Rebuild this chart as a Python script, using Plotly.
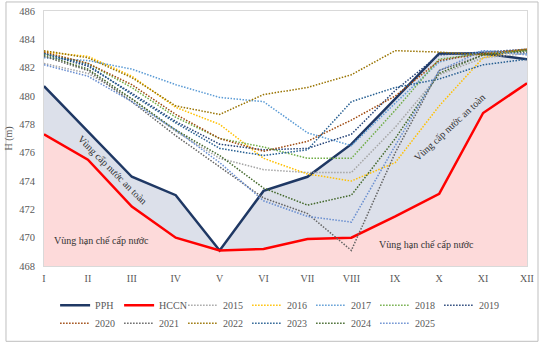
import plotly.graph_objects as go

months = ["I", "II", "III", "IV", "V", "VI", "VII", "VIII", "IX", "X", "XI", "XII"]
PPH = [480.7, 477.5, 474.3, 473.0, 469.1, 473.3, 474.3, 476.6, 479.8, 483.0, 483.0, 482.6]
HCCN = [477.3, 475.5, 472.2, 470.0, 469.1, 469.2, 469.9, 470.0, 471.5, 473.1, 478.8, 480.9]

y2015 = [482.3, 481.6, 479.8, 477.5, 475.6, 474.8, 474.6, 474.6, 477.8, 481.5, 482.7, 483.0]
y2016 = [483.1, 482.8, 481.4, 479.2, 478.0, 475.6, 474.5, 474.0, 475.3, 479.3, 482.7, 483.3]
y2017 = [482.7, 482.5, 481.9, 480.8, 479.9, 479.6, 477.4, 476.5, 479.5, 482.4, 483.2, 483.0]
y2018 = [483.0, 482.3, 480.6, 478.5, 477.0, 476.4, 475.6, 475.6, 479.0, 482.6, 483.0, 483.2]
y2019 = [483.0, 482.1, 480.2, 478.2, 476.6, 476.2, 476.3, 477.3, 480.4, 482.9, 483.1, 483.3]
y2020 = [483.1, 482.3, 480.8, 478.7, 477.0, 476.1, 476.8, 478.3, 480.0, 482.5, 483.0, 483.3]
y2021 = [482.8, 481.8, 479.6, 477.2, 475.0, 472.8, 471.7, 469.1, 476.0, 481.8, 482.9, 483.1]
y2022 = [483.2, 482.7, 481.3, 479.3, 478.7, 480.1, 480.6, 481.5, 483.2, 483.1, 482.9, 483.3]
y2023 = [483.0, 482.2, 480.1, 478.1, 476.3, 475.8, 476.2, 479.6, 480.6, 481.2, 482.2, 482.6]
y2024 = [482.9, 481.9, 479.8, 477.6, 475.8, 473.5, 472.3, 473.0, 477.0, 481.6, 482.9, 483.2]
y2025 = [482.2, 481.4, 479.6, 477.6, 475.3, 472.6, 471.5, 471.1, 476.5, 481.8, 483.2, 482.9]

years = ["2015", "2016", "2017", "2018", "2019", "2020", "2021", "2022", "2023", "2024", "2025"]
year_values = [y2015, y2016, y2017, y2018, y2019, y2020, y2021, y2022, y2023, y2024, y2025]
year_colors = ["#A5A5A5", "#FFC000", "#5B9BD5", "#70AD47", "#264478", "#9E480E",
               "#636363", "#997300", "#255E91", "#43682B", "#698ED0"]

yticks = list(range(468, 487, 2))
x = list(range(len(months)))

FONT = "Liberation Serif"
fig = go.Figure()

# filled zones
fig.add_trace(go.Scatter(x=x, y=HCCN, mode="lines", line=dict(width=0),
                         fill="tozeroy", fillcolor="#FDDADA",
                         showlegend=False, hoverinfo="skip"))
fig.add_trace(go.Scatter(x=x, y=PPH, mode="lines", line=dict(width=0),
                         fill="tonexty", fillcolor="#DCE0EA",
                         showlegend=False, hoverinfo="skip"))

fig.add_trace(go.Scatter(x=x, y=PPH, mode="lines", name="PPH", legend="legend",
                         line=dict(color="#1F3864", width=2.5)))
fig.add_trace(go.Scatter(x=x, y=HCCN, mode="lines", name="HCCN", legend="legend",
                         line=dict(color="#FF0000", width=2.5)))

for i, (name, vals, col) in enumerate(zip(years, year_values, year_colors)):
    fig.add_trace(go.Scatter(x=x, y=vals, mode="lines", name=name,
                             legend="legend" if i < 5 else "legend2",
                             line=dict(color=col, width=1.5, dash="1.5px,1.5px")))

ann_font = dict(family=FONT, size=10, color="#333333")
fig.add_annotation(x=1.55, y=474.8, text="Vùng cấp nước an toàn", textangle=45,
                   showarrow=False, font=ann_font)
fig.add_annotation(x=9.23, y=477.8, text="Vùng cấp nước an toàn", textangle=-43,
                   showarrow=False, font=ann_font)
fig.add_annotation(x=1.32, y=469.8, text="Vùng hạn chế cấp nước",
                   showarrow=False, font=ann_font)
fig.add_annotation(x=8.72, y=469.5, text="Vùng hạn chế cấp nước",
                   showarrow=False, font=ann_font)

# outer chart border
fig.add_shape(type="rect", xref="paper", yref="paper",
              x0=-0.0787, x1=1.0228, y0=-0.2953, y1=1.0354,
              line=dict(color="#BFBFBF", width=1), fillcolor="rgba(0,0,0,0)")

leg_common = dict(orientation="h", xanchor="left", yanchor="middle",
                  traceorder="normal", entrywidth=19, entrywidthmode="pixels",
                  itemwidth=30, font=dict(family=FONT, size=10, color="#595959"),
                  bgcolor="rgba(0,0,0,0)")

fig.update_layout(
    width=541, height=343,
    margin=dict(l=44, r=14, t=11, b=77, autoexpand=False),
    paper_bgcolor="white", plot_bgcolor="white",
    font=dict(family=FONT, size=10, color="#595959"),
    legend=dict(x=0.023, y=-0.1535, **leg_common),
    legend2=dict(x=0.023, y=-0.2244, **leg_common),
    xaxis=dict(range=[0, 11], tickmode="array", tickvals=x, ticktext=months,
               showgrid=False, zeroline=False, showline=True, mirror=True,
               linecolor="#D9D9D9", linewidth=1,
               ticks="outside", ticklen=3, tickcolor="rgba(0,0,0,0)",
               tickfont=dict(family=FONT, size=10, color="#595959")),
    yaxis=dict(range=[468, 486], tickmode="array", tickvals=yticks,
               showgrid=False, zeroline=False, showline=True, mirror=True,
               linecolor="#D9D9D9", linewidth=1,
               ticks="outside", ticklen=6, tickcolor="rgba(0,0,0,0)",
               tickfont=dict(family=FONT, size=10.5, color="#595959"),
               title=dict(text="H (m)", standoff=4,
                          font=dict(family=FONT, size=10, color="#595959"))),
)

fig.write_html("out.html")
